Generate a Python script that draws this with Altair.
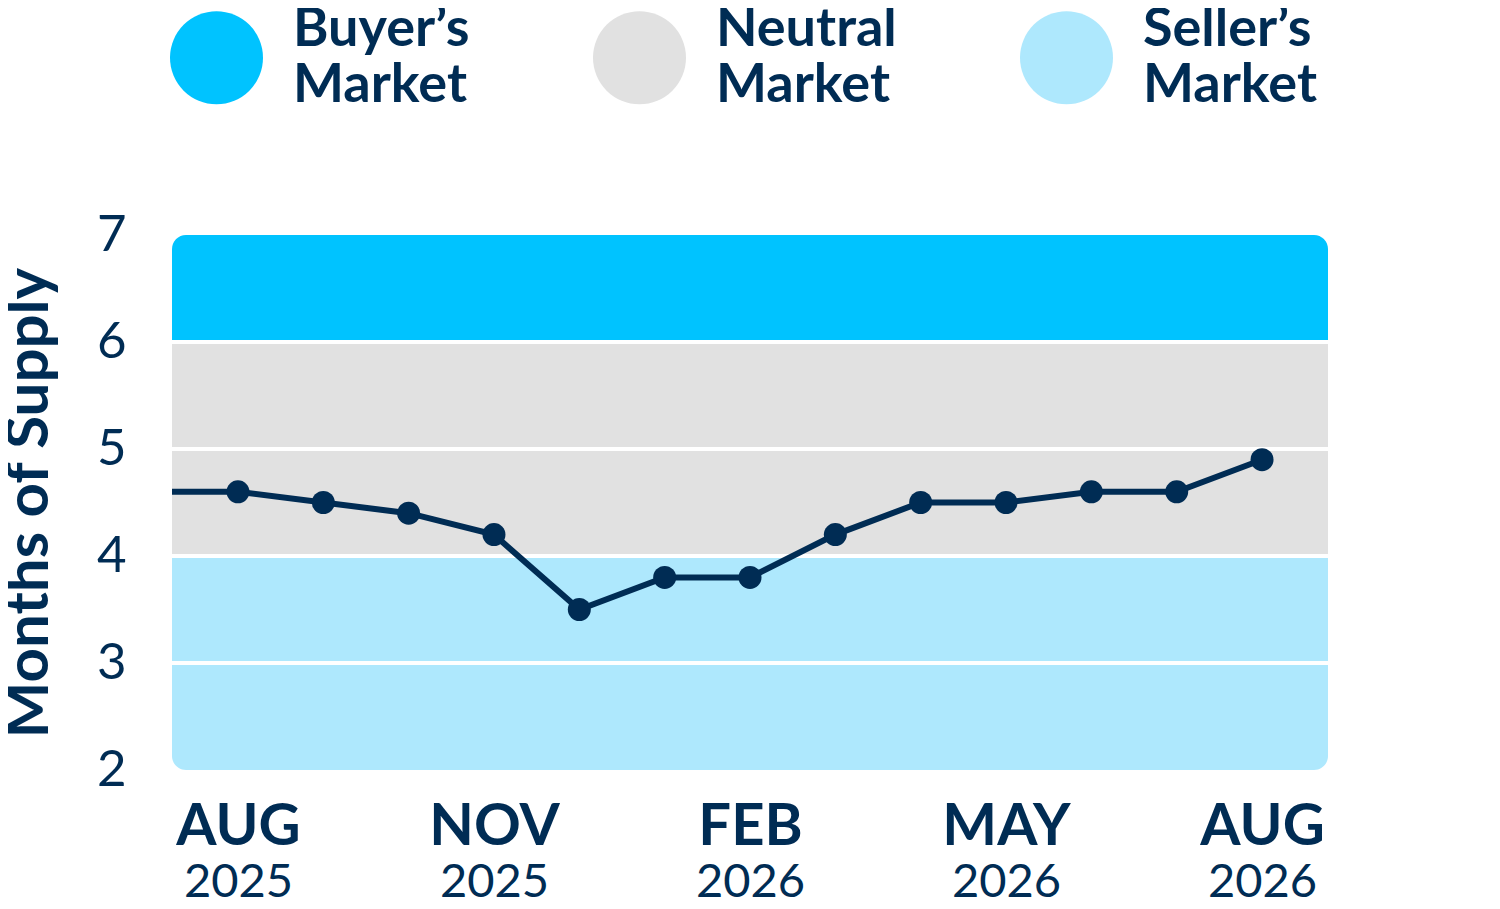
import json
import altair as alt
import pandas as pd

# ---- data ----
month_idx = [-1, 0, 1, 2, 3, 4, 5, 6, 7, 8, 9, 10, 11, 12]
months = ["JUL", "AUG", "SEP", "OCT", "NOV", "DEC", "JAN", "FEB", "MAR", "APR", "MAY", "JUN", "JUL", "AUG"]
years = ["2025", "2025", "2025", "2025", "2025", "2025", "2026", "2026", "2026", "2026", "2026", "2026", "2026", "2026"]
supply = [4.6, 4.6, 4.5, 4.4, 4.2, 3.5, 3.8, 3.8, 4.2, 4.5, 4.5, 4.6, 4.6, 4.9]

tick_values = [0, 3, 6, 9, 12]
tick_months = ["AUG", "NOV", "FEB", "MAY", "AUG"]
tick_years = ["2025", "2025", "2026", "2026", "2026"]

band_names = ["Buyer\u2019s Market", "Neutral Market", "Seller\u2019s Market"]
band_lo = [6, 4, 2]
band_hi = [7, 6, 4]
band_colors = ["#00c3ff", "#e1e1e1", "#aee8fd"]

grid_values = [3, 4, 5, 6]
y_ticks = [2, 3, 4, 5, 6, 7]

NAVY = "#002c54"
FONT = "Lato"

df = pd.DataFrame({"idx": month_idx, "month": months, "year": years, "supply": supply})
bands = pd.DataFrame({"band": band_names, "lo": band_lo, "hi": band_hi})
grid = pd.DataFrame({"g": grid_values})

x_scale = alt.Scale(domain=[-0.773, 12.773], nice=False, zero=False)
y_scale = alt.Scale(domain=[2, 7], nice=False, zero=False)

y_axis = alt.Axis(
    values=y_ticks, format="d", grid=False, domain=False, ticks=False,
    labelFont=FONT, labelFontSize=51, labelColor=NAVY, labelPadding=46,
    title="Months of Supply", titleFont=FONT, titleFontWeight="bold",
    titleFontSize=60, titleColor=NAVY, titlePadding=36,
)

color_enc = alt.Color(
    "band:N",
    scale=alt.Scale(domain=band_names, range=band_colors),
    legend=alt.Legend(
        title=None, orient="none", legendX=-2, legendY=-224,
        direction="horizontal", columns=3,
        symbolType="circle", symbolSize=8649, symbolStrokeWidth=0, symbolOpacity=1,
        labelExpr="split(datum.label, ' ')", labelBaseline="line-bottom",
        labelFont=FONT, labelFontWeight="bold", labelFontSize=54, labelColor=NAVY,
        labelOffset=30, labelLimit=600, columnPadding=123,
    ),
)

base_bands = alt.Chart(bands)
top_band = base_bands.transform_filter(alt.datum.band == band_names[0]).mark_rect(
    cornerRadiusTopLeft=14, cornerRadiusTopRight=14
).encode(y=alt.Y("lo:Q", scale=y_scale, axis=y_axis), y2="hi:Q", color=color_enc)
mid_band = base_bands.transform_filter(alt.datum.band == band_names[1]).mark_rect().encode(
    y=alt.Y("lo:Q", scale=y_scale), y2="hi:Q", color=color_enc)
bot_band = base_bands.transform_filter(alt.datum.band == band_names[2]).mark_rect(
    cornerRadiusBottomLeft=14, cornerRadiusBottomRight=14
).encode(y=alt.Y("lo:Q", scale=y_scale), y2="hi:Q", color=color_enc)

rules = alt.Chart(grid).mark_rule(color="white", strokeWidth=4).encode(
    y=alt.Y("g:Q", scale=y_scale))

month_expr = f"{json.dumps(tick_months)}[indexof({json.dumps(tick_values)}, datum.value)]"
year_expr = f"{json.dumps(tick_years)}[indexof({json.dumps(tick_values)}, datum.value)]"

line = alt.Chart(df).mark_line(color=NAVY, strokeWidth=6, clip=True).encode(
    x=alt.X("idx:Q", scale=x_scale, axis=alt.Axis(
        orient="bottom", values=tick_values, labelExpr=month_expr, grid=False,
        domain=False, ticks=False, labelFont=FONT, labelFontWeight="bold",
        labelFontSize=58, labelColor=NAVY, labelPadding=28, title=None,
        labelBaseline="top")),
    y=alt.Y("supply:Q", scale=y_scale),
)
points = alt.Chart(df).mark_circle(color=NAVY, size=529, opacity=1, clip=True).encode(
    x=alt.X("idx:Q", scale=x_scale, axis=alt.Axis(
        orient="bottom", values=tick_values, labelExpr=year_expr, grid=False,
        domain=False, ticks=False, labelFont=FONT, labelFontWeight="normal",
        labelFontSize=47, labelColor=NAVY, labelPadding=89, title=None,
        labelBaseline="top")),
    y=alt.Y("supply:Q", scale=y_scale),
)

chart = alt.layer(top_band, mid_band, bot_band, rules, line, points).resolve_axis(
    x="independent"
).properties(
    width=1156, height=535,
    autosize=alt.AutoSizeParams(type="none"),
    padding={"left": 164, "top": 227, "right": 164, "bottom": 131},
    background="white",
).configure_view(stroke=None)

chart.save("out.html", embed_options={"renderer": "svg", "actions": False})
